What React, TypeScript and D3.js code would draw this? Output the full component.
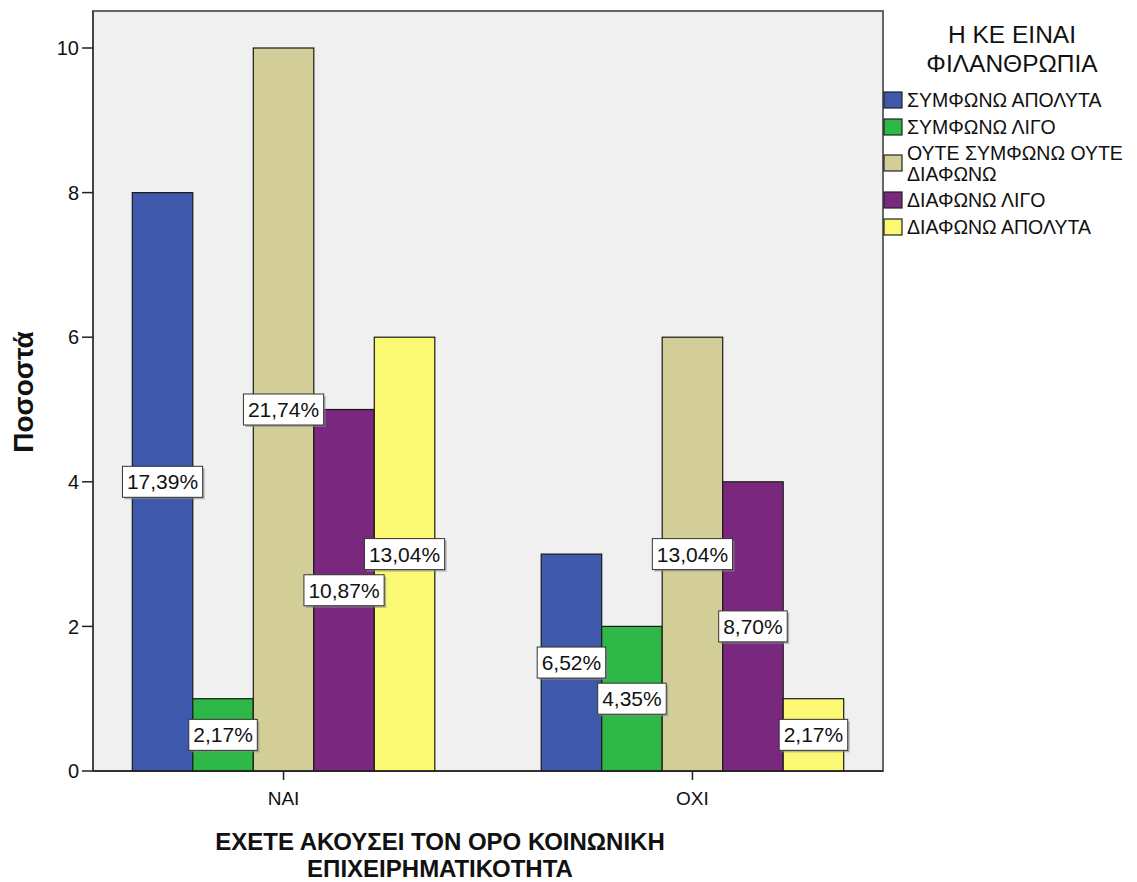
import React from "react";
import * as d3 from "d3";

const categories = ["ΝΑΙ", "ΟΧΙ"];
const seriesNames = [
  "ΣΥΜΦΩΝΩ ΑΠΟΛΥΤΑ",
  "ΣΥΜΦΩΝΩ ΛΙΓΟ",
  "ΟΥΤΕ ΣΥΜΦΩΝΩ ΟΥΤΕ ΔΙΑΦΩΝΩ",
  "ΔΙΑΦΩΝΩ ΛΙΓΟ",
  "ΔΙΑΦΩΝΩ ΑΠΟΛΥΤΑ",
];
const legendLines = [
  ["ΣΥΜΦΩΝΩ ΑΠΟΛΥΤΑ"],
  ["ΣΥΜΦΩΝΩ ΛΙΓΟ"],
  ["ΟΥΤΕ ΣΥΜΦΩΝΩ ΟΥΤΕ", "ΔΙΑΦΩΝΩ"],
  ["ΔΙΑΦΩΝΩ ΛΙΓΟ"],
  ["ΔΙΑΦΩΝΩ ΑΠΟΛΥΤΑ"],
];
const colors = ["#3e58ac", "#2eb848", "#d3ce97", "#79287d", "#fbf873"];
const valuesNAI = [8, 1, 10, 5, 6];
const valuesOXI = [3, 2, 6, 4, 1];
const labelsNAI = ["17,39%", "2,17%", "21,74%", "10,87%", "13,04%"];
const labelsOXI = ["6,52%", "4,35%", "13,04%", "8,70%", "2,17%"];
const yTicks = [0, 2, 4, 6, 8, 10];

const W = 1137;
const H = 882;
const plot = { left: 93, right: 883, top: 11, bottom: 771 };
const FONT = "'Liberation Sans', Arial, sans-serif";

function emWidth(s: string) {
  let w = 0;
  for (const ch of s) {
    if (ch === ",") w += 0.278;
    else if (ch === "%") w += 0.889;
    else w += 0.556;
  }
  return w;
}

export default function App() {
  const y = d3.scaleLinear().domain([0, 10]).range([plot.bottom, 48]);
  const x = d3.scalePoint<string>().domain(categories).range([plot.left, plot.right]).padding(0.466);
  const barW = 60.5;
  const inner = d3
    .scaleBand<number>()
    .domain(d3.range(seriesNames.length))
    .range([-barW * 2.5, barW * 2.5])
    .padding(0);

  const values = [valuesNAI, valuesOXI];
  const labels = [labelsNAI, labelsOXI];
  const LFS = 21;

  const bars: React.ReactNode[] = [];
  const boxes: React.ReactNode[] = [];
  categories.forEach((c, ci) => {
    const cx = x(c)!;
    values[ci].forEach((v, si) => {
      const bx = cx + inner(si)!;
      bars.push(
        <rect
          key={`b${ci}-${si}`}
          x={bx}
          y={y(v)}
          width={inner.bandwidth()}
          height={y(0) - y(v)}
          fill={colors[si]}
          stroke="#1a1a1a"
          strokeWidth={1.2}
        />
      );
      const lx = bx + inner.bandwidth() / 2;
      const ly = y(v / 2);
      const txt = labels[ci][si];
      const bw = emWidth(txt) * LFS + 9;
      const bh = 31;
      boxes.push(
        <g key={`l${ci}-${si}`}>
          <rect x={lx - bw / 2 + 2} y={ly - bh / 2 + 2} width={bw} height={bh} fill="#8a8a8a" opacity={0.6} />
          <rect x={lx - bw / 2} y={ly - bh / 2} width={bw} height={bh} fill="#ffffff" stroke="#333" strokeWidth={1} />
          <text x={lx} y={ly} dy="0.36em" textAnchor="middle" fontSize={LFS} fontFamily={FONT} fill="#111">
            {txt}
          </text>
        </g>
      );
    });
  });

  const legendCenters = [100, 127, 163, 200, 227];
  const legendItems = legendLines.map((lines, i) => {
    const cy = legendCenters[i];
    return (
      <g key={`lg${i}`}>
        <rect x={884} y={cy - 8} width={18} height={16} fill={colors[i]} stroke="#222" strokeWidth={1.2} />
        {lines.map((ln, k) => (
          <text
            key={k}
            x={907}
            y={cy + (k - (lines.length - 1) / 2) * 21}
            dy="0.36em"
            fontSize={19.5}
            fontFamily={FONT}
            fill="#111"
          >
            {ln}
          </text>
        ))}
      </g>
    );
  });

  return (
    <svg width={W} height={H} style={{ position: "absolute", left: 0, top: 0, background: "#fff" }}>
      <rect x={0} y={0} width={W} height={H} fill="#fff" />
      <rect
        x={plot.left}
        y={plot.top}
        width={plot.right - plot.left}
        height={plot.bottom - plot.top}
        fill="#f0f0f0"
        stroke="#666"
        strokeWidth={2}
      />
      {bars}
      <line x1={plot.left} x2={plot.right} y1={plot.bottom} y2={plot.bottom} stroke="#222" strokeWidth={1.5} />
      <line x1={plot.left} x2={plot.left} y1={plot.top} y2={plot.bottom} stroke="#444" strokeWidth={2} />
      {yTicks.map((t) => (
        <g key={`yt${t}`}>
          <line x1={plot.left - 11} x2={plot.left} y1={y(t)} y2={y(t)} stroke="#222" strokeWidth={1.5} />
          <text x={plot.left - 14} y={y(t)} dy="0.36em" textAnchor="end" fontSize={20} fontFamily={FONT} fill="#111">
            {t}
          </text>
        </g>
      ))}
      {categories.map((c) => (
        <g key={`xt${c}`}>
          <line x1={x(c)!} x2={x(c)!} y1={plot.bottom} y2={plot.bottom + 9} stroke="#222" strokeWidth={1.5} />
          <text x={x(c)!} y={805} textAnchor="middle" fontSize={19} fontFamily={FONT} fill="#111">
            {c}
          </text>
        </g>
      ))}
      {boxes}
      <text
        transform={`translate(33, 392) rotate(-90)`}
        textAnchor="middle"
        fontSize={28}
        fontWeight="bold"
        fontFamily={FONT}
        fill="#111"
      >
        Ποσοστά
      </text>
      <text x={440} y={850} textAnchor="middle" fontSize={24} fontWeight="bold" fontFamily={FONT} fill="#111">
        ΕΧΕΤΕ ΑΚΟΥΣΕΙ ΤΟΝ ΟΡΟ ΚΟΙΝΩΝΙΚΗ
      </text>
      <text x={440} y={877} textAnchor="middle" fontSize={24} fontWeight="bold" fontFamily={FONT} fill="#111">
        ΕΠΙΧΕΙΡΗΜΑΤΙΚΟΤΗΤΑ
      </text>
      <text x={1012} y={43} textAnchor="middle" fontSize={24.5} fontFamily={FONT} fill="#111">
        Η ΚΕ ΕΙΝΑΙ
      </text>
      <text x={1012} y={72} textAnchor="middle" fontSize={24.5} fontFamily={FONT} fill="#111">
        ΦΙΛΑΝΘΡΩΠΙΑ
      </text>
      {legendItems}
    </svg>
  );
}
